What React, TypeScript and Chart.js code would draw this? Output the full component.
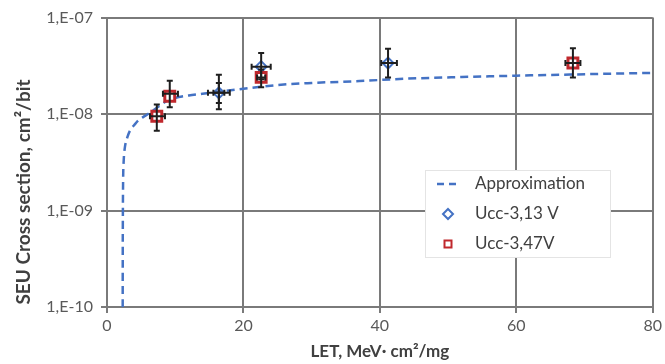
import React, { useEffect, useRef } from "react";
import { Chart, registerables } from "chart.js";
Chart.register(...registerables);

const FONT = "Lato";

// Approximation curve
const approxLET = [2.3, 2.31, 2.33, 2.36, 2.45, 2.6, 3.0, 3.4, 4.0, 4.6, 5.3, 6.0, 7.0, 8.0, 9.2, 10.5, 12, 14, 16.5, 20, 25, 30, 37, 44, 52, 60, 68, 76, 80];
const approxSigma = [1e-10, 4e-10, 1e-9, 2e-9, 3.3e-9, 4.4e-9, 5.8e-9, 6.8e-9, 7.7e-9, 8.6e-9, 9.3e-9, 1.0e-8, 1.12e-8, 1.26e-8, 1.42e-8, 1.5e-8, 1.56e-8, 1.62e-8, 1.71e-8, 1.83e-8, 2.0e-8, 2.1e-8, 2.2e-8, 2.33e-8, 2.42e-8, 2.5e-8, 2.57e-8, 2.64e-8, 2.67e-8];

// Ucc-3,13 V
const u313LET = [16.4, 22.6, 41.2];
const u313Sigma = [1.66e-8, 3.1e-8, 3.38e-8];

// Ucc-3,47 V
const u347LET = [7.3, 9.2, 22.6, 68.3];
const u347Sigma = [9.5e-9, 1.53e-8, 2.4e-8, 3.38e-8];

// Error bars
const errX = [7.3, 9.2, 16.4, 16.4, 22.6, 22.6, 41.2, 68.3];
const errY = [9.5e-9, 1.62e-8, 1.66e-8, 1.66e-8, 3.1e-8, 2.4e-8, 3.38e-8, 3.38e-8];
const errXLow = [6.3, 8.2, 14.8, 15.6, 21.2, 22.0, 40.2, 67.2];
const errXHigh = [8.5, 10.4, 18.0, 17.2, 24.0, 23.2, 42.5, 69.4];
const errYLow = [6.7e-9, 1.18e-8, 1.12e-8, 1.3e-8, 2.3e-8, 1.9e-8, 2.4e-8, 2.4e-8];
const errYHigh = [1.26e-8, 2.22e-8, 2.56e-8, 2.1e-8, 4.3e-8, 2.9e-8, 4.76e-8, 4.8e-8];

const yTickValues = [1e-10, 1e-9, 1e-8, 1e-7];
const yTickLabels = ["1,E-10", "1,E-09", "1,E-08", "1,E-07"];

const seriesNames = ["Approximation", "Ucc-3,13 V", "Ucc-3,47V"];
const xTitle = "LET, MeV· cm²/mg";
const yTitle = "SEU Cross section, cm²/bit";

const BLUE = "#4472c4";
const RED = "#c0282d";
const GRID = "#7a7a7a";

const errorBarPlugin = {
  id: "errorBars",
  afterDatasetsDraw(chart: any) {
    const { ctx, scales } = chart;
    const x = scales.x, y = scales.y;
    ctx.save();
    ctx.strokeStyle = "#1e1e1e";
    ctx.lineWidth = 2;
    const cap = 3;
    for (let i = 0; i < errX.length; i++) {
      const px = x.getPixelForValue(errX[i]);
      const py = y.getPixelForValue(errY[i]);
      const x0 = x.getPixelForValue(errXLow[i]);
      const x1 = x.getPixelForValue(errXHigh[i]);
      const y0 = y.getPixelForValue(errYLow[i]);
      const y1 = y.getPixelForValue(errYHigh[i]);
      ctx.beginPath();
      ctx.moveTo(px, y0); ctx.lineTo(px, y1);
      ctx.moveTo(px - cap, y0); ctx.lineTo(px + cap, y0);
      ctx.moveTo(px - cap, y1); ctx.lineTo(px + cap, y1);
      ctx.moveTo(x0, py); ctx.lineTo(x1, py);
      ctx.moveTo(x0, py - cap); ctx.lineTo(x0, py + cap);
      ctx.moveTo(x1, py - cap); ctx.lineTo(x1, py + cap);
      ctx.stroke();
    }
    ctx.restore();
  },
};

const overlayPlugin = {
  id: "overlay",
  afterDraw(chart: any) {
    const { ctx } = chart;
    ctx.save();
    // y title
    ctx.fillStyle = "#404040";
    ctx.font = `bold 19px ${FONT}`;
    ctx.textAlign = "center";
    ctx.textBaseline = "middle";
    ctx.translate(24, 192);
    ctx.rotate(-Math.PI / 2);
    ctx.fillText(yTitle, 0, 0);
    ctx.restore();

    // legend
    ctx.save();
    const lx = 425, ly = 170, lw = 185, lh = 87;
    ctx.fillStyle = "#ffffff";
    ctx.fillRect(lx, ly, lw, lh);
    ctx.strokeStyle = "#e4e4e4";
    ctx.lineWidth = 1;
    ctx.strokeRect(lx + 0.5, ly + 0.5, lw, lh);
    const rows = [184, 214, 244];
    const sx = 448;
    // dashed line
    ctx.strokeStyle = BLUE;
    ctx.lineWidth = 2.5;
    ctx.setLineDash([7, 5]);
    ctx.beginPath();
    ctx.moveTo(437, rows[0]);
    ctx.lineTo(459, rows[0]);
    ctx.stroke();
    ctx.setLineDash([]);
    // diamond
    ctx.lineWidth = 2;
    ctx.beginPath();
    ctx.moveTo(sx, rows[1] - 5);
    ctx.lineTo(sx + 5, rows[1]);
    ctx.lineTo(sx, rows[1] + 5);
    ctx.lineTo(sx - 5, rows[1]);
    ctx.closePath();
    ctx.stroke();
    // square
    ctx.strokeStyle = RED;
    ctx.lineWidth = 2;
    ctx.strokeRect(sx - 3.5, rows[2] - 3.5, 7, 7);
    // texts
    ctx.fillStyle = "#404040";
    ctx.font = `17px ${FONT}`;
    ctx.textAlign = "left";
    ctx.textBaseline = "middle";
    for (let i = 0; i < 3; i++) ctx.fillText(seriesNames[i], 475, rows[i]);
    ctx.restore();
  },
};

export default function App() {
  const ref = useRef<HTMLCanvasElement>(null);
  useEffect(() => {
    if (!ref.current) return;
    const chart = new Chart(ref.current, {
      type: "scatter",
      data: {
        datasets: [
          {
            label: seriesNames[0],
            data: approxLET.map((x, i) => ({ x, y: approxSigma[i] })),
            showLine: true,
            borderColor: BLUE,
            borderWidth: 2.5,
            borderDash: [8, 5],
            pointRadius: 0,
            cubicInterpolationMode: "monotone",
            order: 3,
          } as any,
          {
            label: seriesNames[1],
            data: u313LET.map((x, i) => ({ x, y: u313Sigma[i] })),
            pointStyle: "rectRot",
            pointRadius: 5.5,
            borderColor: BLUE,
            borderWidth: 2,
            backgroundColor: "rgba(255,255,255,0)",
            order: 2,
          },
          {
            label: seriesNames[2],
            data: u347LET.map((x, i) => ({ x, y: u347Sigma[i] })),
            pointStyle: "rect",
            pointRadius: 7,
            borderColor: RED,
            borderWidth: 3,
            backgroundColor: "#ffffff",
            order: 1,
          },
        ],
      },
      options: {
        animation: false,
        responsive: false,
        maintainAspectRatio: false,
        layout: { padding: { top: 16, right: 11, left: 0, bottom: 0 } },
        plugins: { legend: { display: false }, tooltip: { enabled: false } },
        scales: {
          x: {
            type: "linear",
            min: 0,
            max: 80,
            ticks: { stepSize: 20, color: "#595959", font: { family: FONT, size: 16 }, padding: 3, maxRotation: 0 },
            grid: { color: GRID, lineWidth: 2, tickLength: 6 },
            border: { color: GRID, width: 2 },
            title: { display: true, text: xTitle, color: "#404040", font: { family: FONT, size: 17, weight: "bold" }, padding: { top: 4, bottom: 2 } },
            afterFit(s: any) { s.height = 57; },
          },
          y: {
            type: "logarithmic",
            min: 1e-10,
            max: 1e-7,
            afterBuildTicks(s: any) { s.ticks = yTickValues.map((v) => ({ value: v })); },
            ticks: {
              color: "#595959",
              font: { family: FONT, size: 16 },
              padding: 8,
              callback: (_v: any, i: number) => yTickLabels[i],
            },
            grid: { color: GRID, lineWidth: 2, tickLength: 6 },
            border: { color: GRID, width: 2 },
            afterFit(s: any) { s.width = 107; },
          },
        },
      } as any,
      plugins: [errorBarPlugin, overlayPlugin],
    });
    return () => chart.destroy();
  }, []);
  return (
    <div style={{ position: "fixed", left: 0, top: 0, width: 665, height: 364, background: "#fff" }}>
      <canvas ref={ref} width={665} height={364} style={{ display: "block" }} />
    </div>
  );
}
